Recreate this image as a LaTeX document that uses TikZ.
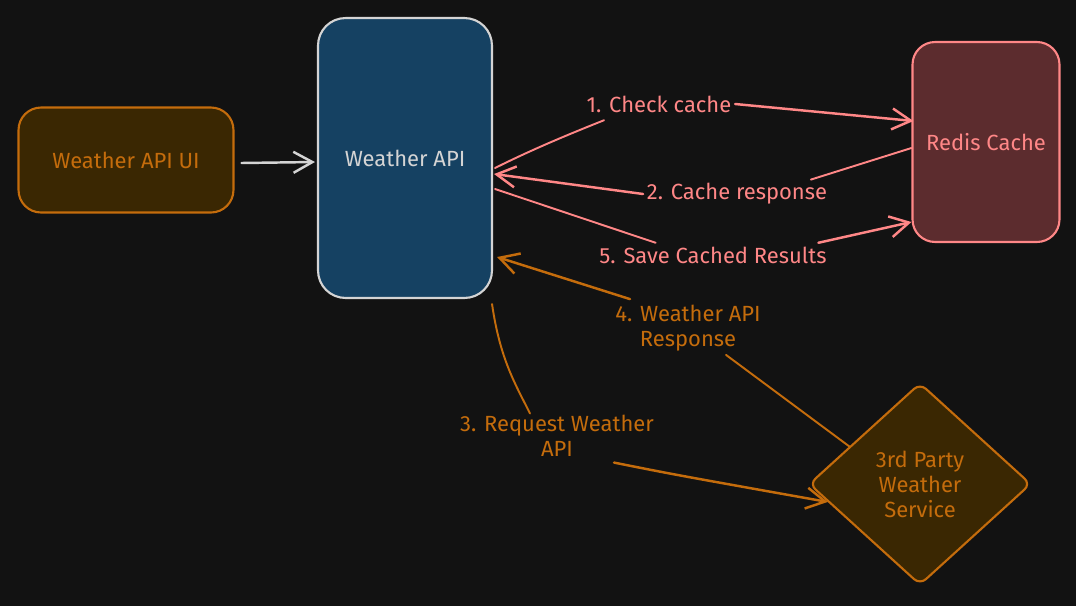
\documentclass[tikz,border=0pt]{standalone}
\usepackage{fontspec}
\setmainfont{Fira Sans}
\usetikzlibrary{arrows.meta,shapes.geometric,calc}
\definecolor{bgc}{HTML}{121212}
\definecolor{orng}{HTML}{C46C0C}
\definecolor{brwn}{HTML}{3A2702}
\definecolor{navy}{HTML}{154162}
\definecolor{lgray}{HTML}{D4D4D4}
\definecolor{salm}{HTML}{FF8787}
\definecolor{wine}{HTML}{5C2C2E}
\tikzset{
  box/.style={draw,line width=1.2pt,rounded corners=0.45cm,align=center},
  lbl/.style={align=center,inner sep=2pt},
  conn/.style={line width=1.1pt},
  tipd/.style={line width=1.4pt,->}
}

\begin{document}
\begin{tikzpicture}[line cap=round,line join=round,>={Straight Barb[length=0.38cm,width=0.42cm]},x=0.02cm,y=-0.02cm,font=\fontsize{12.5}{14.2}\selectfont]
	\fill[bgc] (0,0) rectangle (1076,606);
	\node[box,draw=orng,fill=brwn,text=orng,minimum width=4.3cm,minimum height=2.1cm] (ui) at (126,160) {Weather API UI};
	\node[box,draw=lgray,fill=navy,text=lgray,minimum width=3.48cm,minimum height=5.6cm,rounded corners=0.55cm] (api) at (405,158) {Weather API};
	\node[box,draw=salm,fill=wine,text=salm,minimum width=2.94cm,minimum height=4cm] (redis) at (986,142) {Redis Cache};
	\node[box,diamond,draw=orng,fill=brwn,text=orng,minimum width=4.44cm,minimum height=4.04cm,rounded corners=0.16cm] (svc) at (920,484) {3rd Party\\Weather\\Service};
	\node[lbl,text=salm] (chk) at (659,104) {1. Check cache};
	\node[lbl,text=salm] (rsp) at (737,194) {2. Cache response};
	\node[lbl,text=salm] (sav) at (713,255) {5. Save Cached Results};
	\node[lbl,text=orng] (wre) at (688,328) {4. Weather API\\Response};
	\node[lbl,text=orng] (req) at (557,436) {3. Request Weather\\API};
	\draw[conn,lgray,tipd] ($(ui.east)+(7,3)$) -- ($(api.west)+(-2,4)$);
	\draw[conn,salm] ($(api.east)+(2,10)$) .. controls +(40,-20) and +(-30,12) .. ($(chk.south)+(-55,4)$);
	\draw[conn,salm,tipd] (chk.east) -- ($(redis.west)+(2,-21)$);
	\draw[conn,salm] ($(redis.west)+(0,6)$) -- ($(rsp.north east)+(-20,0)$);
	\draw[conn,salm,tipd] (rsp.west) -- ($(api.east)+(1,16)$);
	\draw[conn,salm] ($(api.east)+(2,31)$) -- ($(sav.north west)+(60,0)$);
	\draw[conn,salm,tipd] ($(sav.north east)+(-12,0)$) -- ($(redis.west)+(0,80)$);
	\draw[conn,orng] (svc.152) -- ($(wre.south)+(38,0)$);
	\draw[conn,orng,tipd] ($(wre.north)+(-58,-2)$) -- ($(api.east)+(4,99)$);
	\draw[conn,orng] ($(api.south east)+(-1,5)$) .. controls +(8,55) and +(-15,-30) .. ($(req.north)+(-27,2)$);
	\draw[conn,orng,tipd] ($(req.south)+(57,2)$) .. controls +(60,12) .. (svc.191);
\end{tikzpicture}
\end{document}
